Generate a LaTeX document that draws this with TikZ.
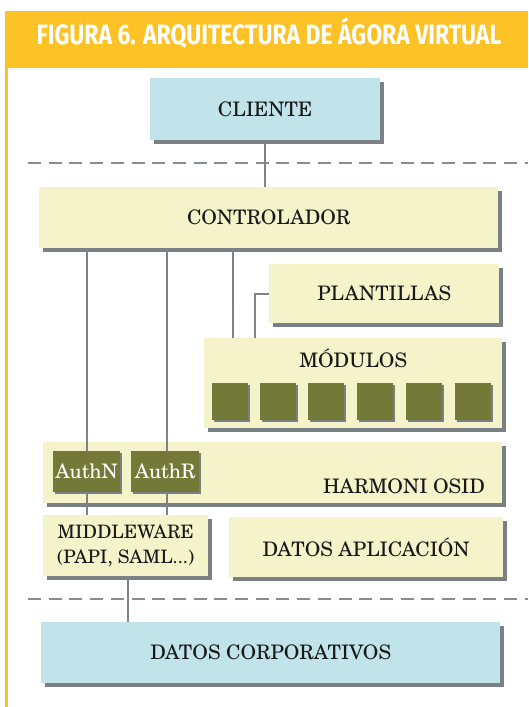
\documentclass[tikz,border=0pt]{standalone}
\usepackage{fontspec}
\setmainfont{texgyreschola}[Extension=.otf, UprightFont=*-regular, BoldFont=*-bold, ItalicFont=*-italic, BoldItalicFont=*-bolditalic]
\newfontfamily\headfont{Fira Sans}[FakeStretch=0.82]
\usetikzlibrary{shadows}
\definecolor{hdr}{RGB}{253,194,38}
\definecolor{lblue}{RGB}{192,228,234}
\definecolor{cream}{RGB}{245,243,202}
\definecolor{olive}{RGB}{115,122,56}
\definecolor{shadowc}{RGB}{122,128,132}
\definecolor{linec}{RGB}{125,132,136}
\definecolor{dashc}{RGB}{135,140,146}
\definecolor{txt}{RGB}{25,25,25}
\begin{document}
\begin{tikzpicture}[x=1pt,y=-1pt,
  boxbase/.style={inner sep=0pt, anchor=north west, text=txt,
    font=\fontsize{20}{24}\selectfont,
    general shadow={fill=shadowc, shadow xshift=4pt, shadow yshift=-4pt}},
  bluebox/.style={boxbase, fill=lblue},
  creambox/.style={boxbase, fill=cream},
  modsq/.style={inner sep=0pt, anchor=north west, fill=olive,
    minimum width=36pt, minimum height=37pt,
    general shadow={fill=shadowc, shadow xshift=2pt, shadow yshift=-2pt}},
  authbox/.style={inner sep=0pt, anchor=north west, fill=olive, text=white,
    font=\fontsize{20}{24}\selectfont,
    minimum height=41pt,
    general shadow={fill=shadowc, shadow xshift=2pt, shadow yshift=-2pt}},
  conn/.style={draw=linec, line width=2pt},
  sepline/.style={draw=dashc, line width=2.5pt, dash pattern=on 13pt off 7.7pt},
]
\useasboundingbox (0,0) rectangle (528,707);
% frame
\fill[hdr] (5,11) rectangle (528,68);
\fill[hdr] (5,68) rectangle (8,707);
\node[text=white, font=\headfont\bfseries\fontsize{28}{32}\selectfont] (title) at (269,33) {FIGURA 6. ARQUITECTURA DE ÁGORA VIRTUAL};

% separators
\coordinate (s1a) at (28,163); \coordinate (s1b) at (528,163);
\coordinate (s2a) at (28,599); \coordinate (s2b) at (528,599);

% boxes
\node[bluebox, minimum width=230pt, minimum height=62pt] (cliente) at (150,78) {CLIENTE};
\node[creambox, minimum width=459pt, minimum height=61pt] (ctrl) at (39,187) {CONTROLADOR};
\node[creambox, minimum width=230pt, minimum height=59pt] (plant) at (269,264) {PLANTILLAS};
\node[creambox, minimum width=298pt, minimum height=90pt] (modulos) at (204,338) {};
\node[anchor=base, text=txt, font=\fontsize{20}{24}\selectfont] (modlabel) at ([yshift=-29pt]modulos.north) {MÓDULOS};
\node[modsq] (m1) at (212,383) {};
\node[modsq] (m2) at (260,383) {};
\node[modsq] (m3) at (308,383) {};
\node[modsq] (m4) at (357,383) {};
\node[modsq] (m5) at (406,383) {};
\node[modsq] (m6) at (455,383) {};
\node[creambox, minimum width=459pt, minimum height=61pt] (harmoni) at (43,442) {};
\node[anchor=base east, text=txt, font=\fontsize{20}{24}\selectfont] (harmlabel) at ([xshift=-14pt,yshift=10pt]harmoni.south east) {HARMONI OSID};
\node[creambox, minimum width=165pt, minimum height=61pt, align=center,
  font=\fontsize{18.5}{25}\selectfont] (mw) at (43,515) {MIDDLEWARE\\(PAPI, SAML...)};
\node[creambox, minimum width=274pt, minimum height=60pt] (datapp) at (229,517) {DATOS APLICACIÓN};
\node[bluebox, minimum width=459pt, minimum height=61pt] (corp) at (41,622) {DATOS CORPORATIVOS};
\node[authbox, minimum width=67pt] (authn) at (53,451) {AuthN};
\node[authbox, minimum width=68pt] (authr) at (131,451) {AuthR};

% separators drawn
\draw[sepline] (s1a) -- (s1b);
\draw[sepline] (s2a) -- (s2b);

% connectors
\draw[conn] (cliente.south) -- (cliente.south |- ctrl.north);
\coordinate (mc1) at ([xshift=29pt]modulos.north west);
\coordinate (mc2) at ([xshift=51pt]modulos.north west);
\draw[conn] (mc1 |- ctrl.south) -- (mc1);
\draw[conn] (plant.west) -| (mc2);
\coordinate (an) at (87,451);
\coordinate (ar) at (167,451);
\coordinate (mwx) at (128,0);
\draw[conn] (an |- ctrl.south) -- (an |- authn.north);
\draw[conn] (an |- authn.south) -- (an |- mw.north);
\draw[conn] (ar |- ctrl.south) -- (ar |- authr.north);
\draw[conn] (ar |- authr.south) -- (ar |- mw.north);
\draw[conn] (mwx |- mw.south) -- (mwx |- corp.north);
\end{tikzpicture}
\end{document}
